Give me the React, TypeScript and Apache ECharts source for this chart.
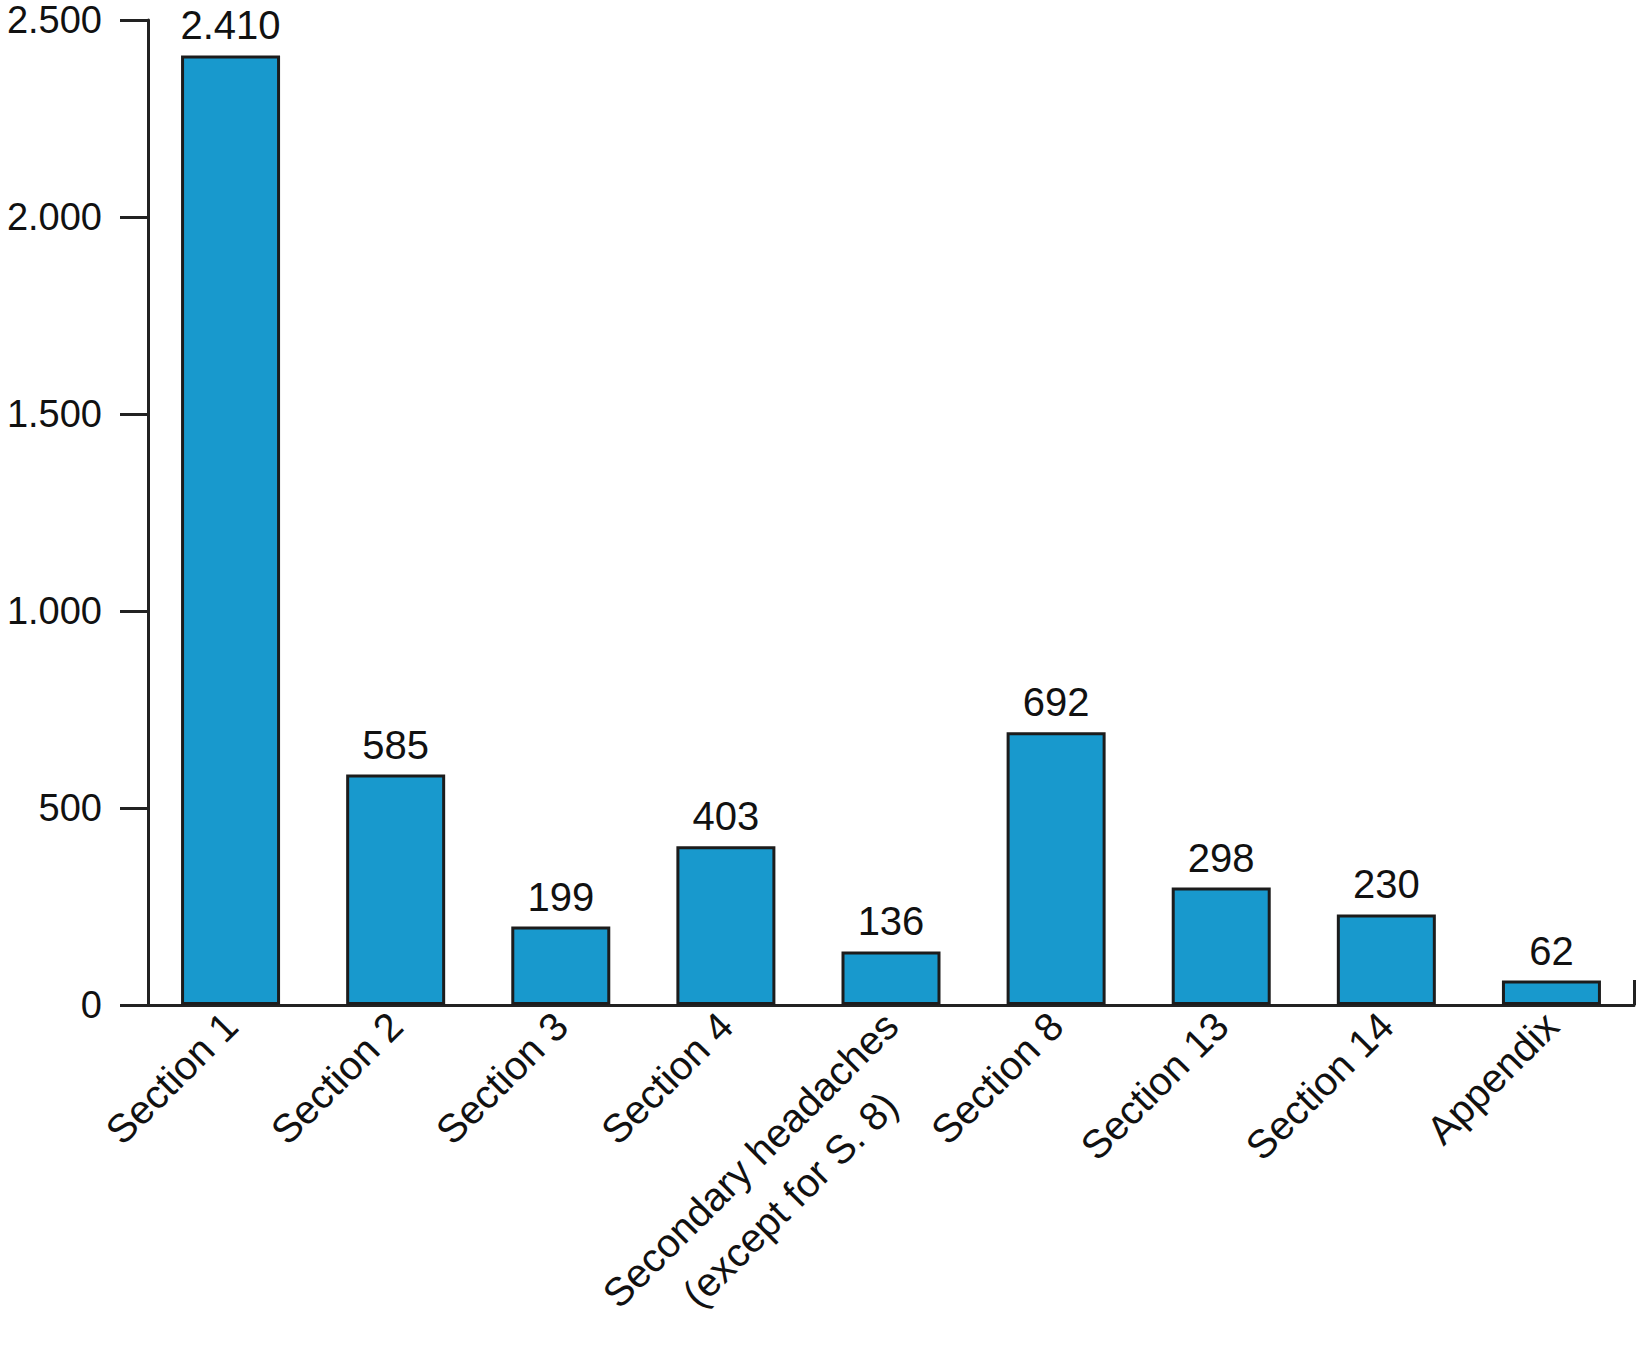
import React, { useEffect, useRef } from "react";
import * as echarts from "echarts";

const categories = [
  "Section 1",
  "Section 2",
  "Section 3",
  "Section 4",
  "Secondary headaches\n(except for S. 8)",
  "Section 8",
  "Section 13",
  "Section 14",
  "Appendix",
];
const values = [2410, 585, 199, 403, 136, 692, 298, 230, 62];
const yMin = 0;
const yMax = 2500;
const yInterval = 500;

const fmt = (v: number) => String(v).replace(/\B(?=(\d{3})+(?!\d))/g, ".");

export default function App() {
  const ref = useRef<HTMLDivElement>(null);
  useEffect(() => {
    if (!ref.current) return;
    const chart = echarts.init(ref.current, null, { renderer: "svg" });
    const font = "Liberation Sans, Arial, Helvetica, sans-serif";
    const labelStyle = { fontSize: 40, fontFamily: font, color: "#111111", lineHeight: 56 };
    chart.setOption({
      animation: false,
      backgroundColor: "#ffffff",
      grid: {
        left: 148,
        right: 3,
        top: 20,
        bottom: 345,
        containLabel: false,
        outerBoundsMode: "none",
      },
      xAxis: {
        type: "category",
        data: categories,
        boundaryGap: true,
        axisLine: { show: true, lineStyle: { color: "#222222", width: 3 } },
        axisTick: {
          show: true,
          inside: true,
          length: 25,
          alignWithLabel: false,
          interval: (i: number) => i === categories.length - 1,
          lineStyle: { color: "#222222", width: 3 },
        },
        axisLabel: {
          rotate: 45,
          interval: 0,
          margin: 14,
          ...labelStyle,
          align: "right",
          formatter: (v: string) => {
            const lines = v.split("\n");
            if (lines.length === 1) return v;
            return ["{c| }", ...lines.map((l) => "{c|" + l + "}")].join("\n");
          },
          rich: { c: { ...labelStyle, align: "center" } },
        },
        splitLine: { show: false },
      },
      yAxis: {
        type: "value",
        min: yMin,
        max: yMax,
        interval: yInterval,
        axisLine: { show: true, lineStyle: { color: "#222222", width: 3 } },
        axisTick: { show: true, length: 28, lineStyle: { color: "#222222", width: 3 } },
        axisLabel: {
          margin: 46,
          fontSize: 38,
          lineHeight: 30,
          fontFamily: font,
          color: "#111111",
          formatter: (v: number) => fmt(v),
        },
        splitLine: { show: false },
      },
      series: [
        {
          type: "bar",
          data: values,
          barWidth: 99,
          itemStyle: { color: "#1899CD", borderColor: "#1c1c1c", borderWidth: 3 },
          label: {
            show: true,
            position: "top",
            distance: 10,
            fontSize: 40,
            fontFamily: font,
            color: "#111111",
            formatter: (p: any) => fmt(p.value),
          },
        },
      ],
    });
    return () => chart.dispose();
  }, []);
  return (
    <div
      ref={ref}
      style={{ position: "fixed", left: 0, top: 0, width: 1637, height: 1350, background: "#fff" }}
    />
  );
}
